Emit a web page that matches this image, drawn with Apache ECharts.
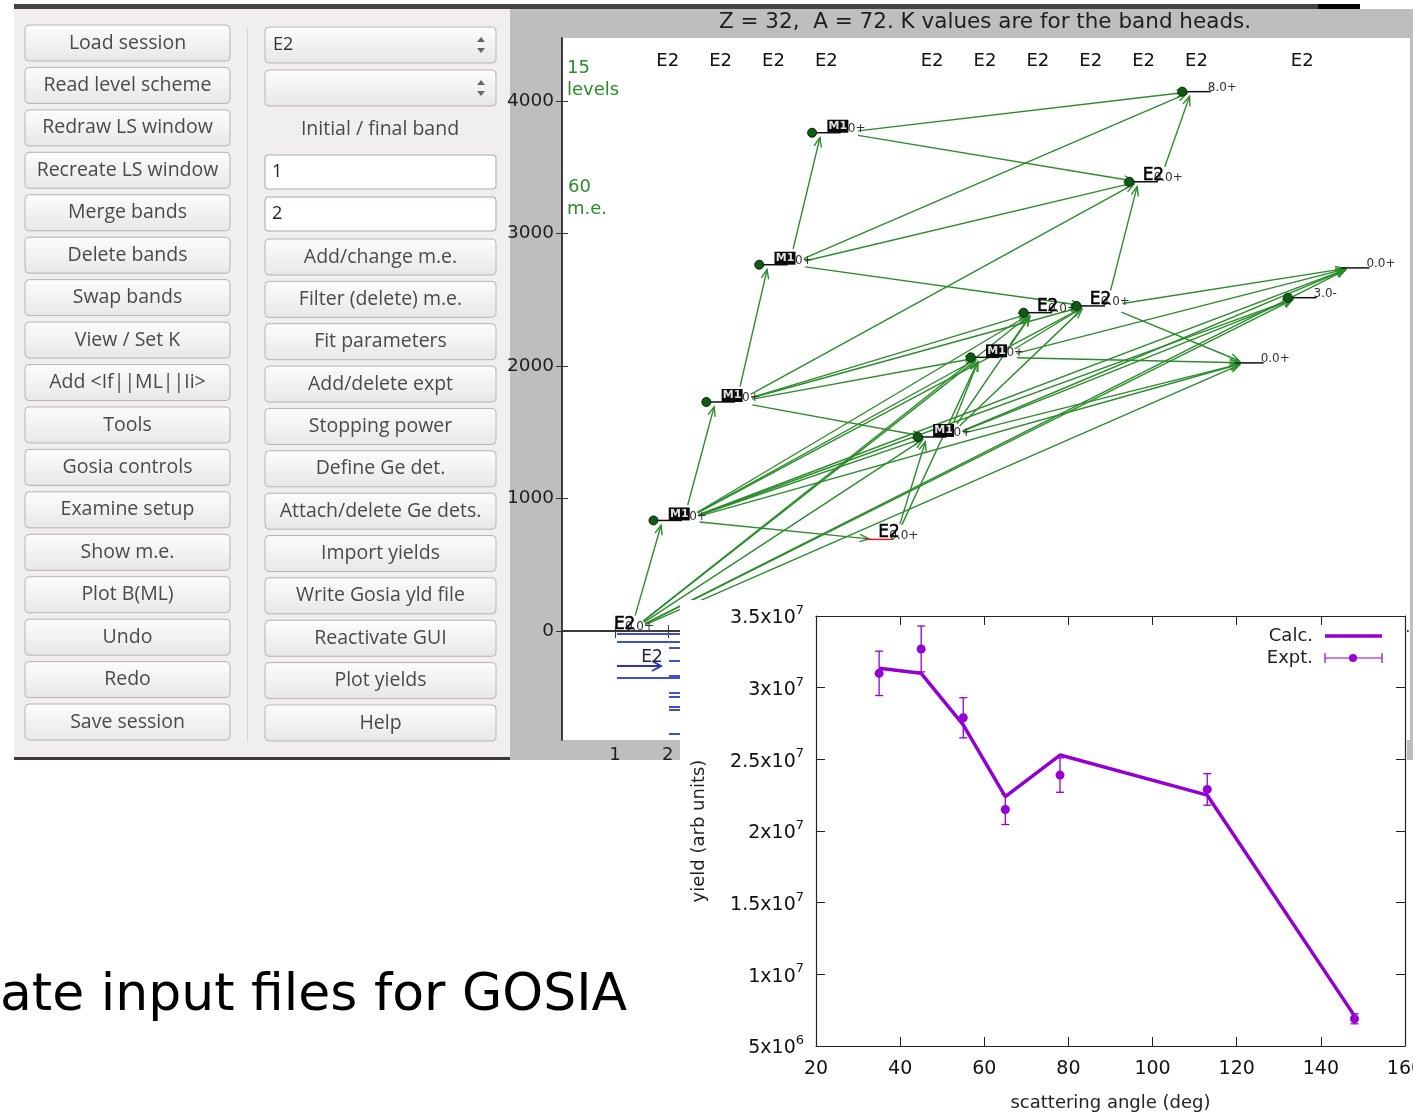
<!DOCTYPE html>
<html><head><meta charset="utf-8">
<script src="https://cdn.jsdelivr.net/npm/echarts@6/dist/echarts.min.js"></script>
<style>html,body{margin:0;padding:0;background:#fff;overflow:hidden}#c{width:1413px;height:1114px}</style>
</head><body><div id="c"></div><script>
// ---------------- Level scheme data (72Ge) ----------------
const levelBand   = [1, 2, 3, 4, 5, 6, 7, 8, 9, 10, 11, 12, 13, 14, 15];
const levelEnergy = [0, 834, 1728, 2764, 3760, 691, 1464, 2065, 2402, 2453, 3390, 4070, 2023, 2515, 2740];
const levelSpin   = ['0.0+','0.0+','0.0+','0.0+','0.0+','0.0+','0.0+','0.0+','0.0+','0.0+','0.0+','8.0+','0.0+','3.0-','0.0+'];
const levelTag    = ['text','box','box','box','box','text','box','box','text','text','text','none','none','none','none'];
const levelDot    = [0,1,1,1,1,0,1,1,1,1,1,1,0,1,0];
const bandLabelX  = [2, 3, 4, 5, 7, 8, 9, 10, 11, 12, 14];
const bandLabels  = ['E2','E2','E2','E2','E2','E2','E2','E2','E2','E2','E2'];
const lsTickX     = [1,2,3,4,5,6,7,8,9,10,11,12,13,14,15];
const lsTickY     = [0, 1000, 2000, 3000, 4000];
const transFrom   = [0,0,0,0,0,0,0, 1,1,1,1,1,1,1,1,1, 2,2,2,2,2,2, 3,3,3,3, 4,4, 5,5, 6,6,6,6,6,6, 7,7,7,7, 8,9,9,9,10];
const transTo     = [1,6,7,8,12,13,14, 2,5,6,7,8,9,12,13,14, 3,6,7,8,9,10, 4,9,10,11, 10,11, 6,7, 7,8,9,12,13,14, 8,9,12,14, 9,10,14,12,11];
const levelCount  = '15';
const meCount     = '60';

// ---------------- Yield data ----------------
const angles    = [35, 45, 55, 65, 78, 113, 148];
const exptYield = [3.10e7, 3.27e7, 2.79e7, 2.15e7, 2.39e7, 2.29e7, 6.9e6];
const exptErr   = [1.55e6, 1.6e6, 1.4e6, 1.05e6, 1.2e6, 1.1e6, 0.35e6];
const calcYield = [3.135e7, 3.10e7, 2.74e7, 2.24e7, 2.53e7, 2.25e7, 7.1e6];

// ---------------- GUI labels ----------------
const leftButtons = ['Load session','Read level scheme','Redraw LS window','Recreate LS window','Merge bands','Delete bands','Swap bands','View / Set K','Add <If||ML||Ii>','Tools','Gosia controls','Examine setup','Show m.e.','Plot B(ML)','Undo','Redo','Save session'];
const rightButtons = ['Add/change m.e.','Filter (delete) m.e.','Fit parameters','Add/delete expt','Stopping power','Define Ge det.','Attach/delete Ge dets.','Import yields','Write Gosia yld file','Reactivate GUI','Plot yields','Help'];
const comboValue = 'E2';
const bandFieldLabel = 'Initial / final band';
const initialBand = '1', finalBand = '2';

const FONT = '"DejaVu Sans"';
const GUIFONT = '"Open Sans"';
const redLevel = 5;
const GREEN = '#2b8c2b';
const PURPLE = '#9400d3';

const G = [];
function rect(x, y, w, h, fill, z, extra) {
  G.push(Object.assign({type:'rect', silent:true, z:z, shape:{x:x, y:y, width:w, height:h}, style:{fill:fill}}, extra || {}));
}
function text(str, x, y, font, fill, align, valign, z) {
  G.push({type:'text', silent:true, z:z, style:{text:str, x:x, y:y, font:font, fill:fill,
    textAlign:align, textVerticalAlign:valign, align:align, verticalAlign:valign}});
}
function line(x1, y1, x2, y2, stroke, w, z) {
  G.push({type:'line', silent:true, z:z, shape:{x1:x1,y1:y1,x2:x2,y2:y2}, style:{stroke:stroke, lineWidth:w}});
}

// window backgrounds
rect(14, 9, 496, 749, '#f0efee', 0);
rect(14, 757, 496, 3, '#3a3a3a', 0);
rect(14, 4, 1304, 5, '#444444', 0);
rect(1318, 4, 42, 5, '#050505', 0);
rect(510, 9, 903, 751, '#bebebe', 0);
rect(562, 38, 848, 702, '#ffffff', 0);

// GUI
const btnGrad = {type:'linear', x:0, y:0, x2:0, y2:1, colorStops:[{offset:0,color:'#fdfdfd'},{offset:1,color:'#e7e7e7'}]};
function button(x, cy, w, label) {
  G.push({type:'rect', silent:true, z:1, shape:{x:x, y:cy-18, width:w, height:36, r:4}, style:{fill:btnGrad, stroke:'#b4b4b4', lineWidth:1}});
  text(label, x + w/2, cy, '19.5px ' + GUIFONT, '#4a4a4a', 'center', 'middle', 2);
}
leftButtons.forEach((b, k) => button(25, 43 + k*42.44, 205, b));
rightButtons.forEach((b, k) => button(265, 257 + k*42.36, 231, b));
line(247.5, 28, 247.5, 742, '#d6d6d6', 1, 1);
// combos
[45, 88].forEach((cy, k) => {
  G.push({type:'rect', silent:true, z:1, shape:{x:265, y:cy-18, width:231, height:36, r:4}, style:{fill:btnGrad, stroke:'#b4b4b4', lineWidth:1}});
  G.push({type:'polygon', silent:true, z:2, shape:{points:[[477,cy-3],[485,cy-3],[481,cy-8]]}, style:{fill:'#666'}});
  G.push({type:'polygon', silent:true, z:2, shape:{points:[[477,cy+3],[485,cy+3],[481,cy+8]]}, style:{fill:'#666'}});
  if (k === 0) text(comboValue, 273, cy, '18px ' + GUIFONT, '#333', 'left', 'middle', 2);
});
text(bandFieldLabel, 380, 129, '19.5px ' + GUIFONT, '#4a4a4a', 'center', 'middle', 2);
[[172, initialBand], [214, finalBand]].forEach(([cy, v]) => {
  G.push({type:'rect', silent:true, z:1, shape:{x:265, y:cy-17, width:231, height:34, r:3}, style:{fill:'#ffffff', stroke:'#a8a8a8', lineWidth:1}});
  text(v, 272, cy, '18px ' + GUIFONT, '#222', 'left', 'middle', 2);
});

// level scheme annotations
text('Z = 32,  A = 72. K values are for the band heads.', 985, 22, '21.5px ' + FONT, '#1e1e1e', 'center', 'middle', 2);
text(levelCount, 567, 68, '18px ' + FONT, GREEN, 'left', 'middle', 6);
text('levels', 567, 90, '18px ' + FONT, GREEN, 'left', 'middle', 6);
text(meCount, 568, 187, '18px ' + FONT, GREEN, 'left', 'middle', 6);
text('m.e.', 567, 209, '18px ' + FONT, GREEN, 'left', 'middle', 6);

// blue lines of the window behind
const BLUE = '#3d4fd4';
line(617, 634, 680, 634, BLUE, 2, 6);
line(617, 642, 680, 642, BLUE, 2, 6);
line(617, 666, 660, 666, '#2a36a8', 2, 6);
G.push({type:'polyline', silent:true, z:6, shape:{points:[[652,661],[661,666],[652,671]]}, style:{stroke:'#2a36a8', lineWidth:2, fill:null}});
text('E2', 652, 658, '17px ' + FONT, '#222244', 'center', 'middle', 6);
line(617, 678, 680, 678, BLUE, 2, 6);
[648, 661, 676, 693, 697, 707, 710, 734].forEach(yy => line(669, yy, 680, yy, BLUE, 2, 6));

// yield window cover
rect(680, 600, 727, 514, '#ffffff', 10);
rect(1407, 760, 6, 354, '#ffffff', 10);

// big caption
text('ate input files for GOSIA', 0, 996, '52px ' + FONT, '#000000', 'left', 'middle', 11);

// yield legend
text('Calc.', 1313, 636, '18px ' + FONT, '#222', 'right', 'middle', 25);
line(1325, 636, 1382, 636, PURPLE, 3.5, 25);
text('Expt.', 1313, 658, '18px ' + FONT, '#222', 'right', 'middle', 25);
line(1325, 658, 1382, 658, PURPLE, 1.2, 25);
line(1325, 653, 1325, 663, PURPLE, 1.2, 25);
line(1382, 653, 1382, 663, PURPLE, 1.2, 25);
G.push({type:'circle', silent:true, z:25, shape:{cx:1353, cy:658, r:4}, style:{fill:PURPLE}});

// ---------------- render functions ----------------
function renderLevel(params, api) {
  const i = params.dataIndex;
  const c = api.coord([api.value(0), api.value(1)]);
  const unit = api.size([1, 0])[0];
  const h = 0.27 * unit;
  const x = c[0], y = c[1];
  const kids = [];
  kids.push({type:'line', shape:{x1:x-h, y1:y, x2:x+h, y2:y}, style:{stroke: i === redLevel ? '#d62020' : '#111', lineWidth:1.5}});
  if (levelDot[i]) kids.push({type:'circle', shape:{cx:x-h, cy:y, r:4.5}, style:{fill:'#0f5a14', stroke:'#052a08', lineWidth:1}});
  const tag = levelTag[i];
  kids.push({type:'text', style:{text:levelSpin[i], x: x + (tag === 'none' ? h - 3 : 10), y: y - 4, font:'12px ' + FONT, fill:'#333',
    textVerticalAlign:'middle', verticalAlign:'middle'}});
  if (tag === 'box') {
    kids.push({type:'rect', shape:{x:x+1, y:y-13, width:21, height:13}, style:{fill:'#0a0a0a'}});
    kids.push({type:'text', style:{text:'M1', x:x+11.5, y:y-6.5, font:'bold 11px ' + FONT, fill:'#e0e0e0',
      textAlign:'center', align:'center', textVerticalAlign:'middle', verticalAlign:'middle'}});
  } else if (tag === 'text') {
    kids.push({type:'text', style:{text:'E2', x:x-1, y:y+2, font:'17px ' + FONT, fill:'#000', stroke:'#000', lineWidth:0.5,
      textVerticalAlign:'bottom', verticalAlign:'bottom'}});
  }
  return {type:'group', children:kids};
}

function renderTrans(params, api) {
  const f = api.value(0), t = api.value(1);
  const a = api.coord([levelBand[f] + 0.3, levelEnergy[f]]);
  const b = api.coord([levelBand[t] - 0.1, levelEnergy[t]]);
  const dx = b[0]-a[0], dy = b[1]-a[1], L = Math.hypot(dx, dy), ux = dx/L, uy = dy/L;
  const s = [a[0] + ux*16, a[1] + uy*16], e = [b[0] - ux*5, b[1] - uy*5];
  const hl = 10, ang = 0.38, cs = Math.cos(ang), sn = Math.sin(ang);
  const bx = -ux, by = -uy;
  const h1 = [e[0] + hl*(bx*cs - by*sn), e[1] + hl*(bx*sn + by*cs)];
  const h2 = [e[0] + hl*(bx*cs + by*sn), e[1] + hl*(-bx*sn + by*cs)];
  return {type:'group', children:[
    {type:'line', shape:{x1:s[0], y1:s[1], x2:e[0], y2:e[1]}, style:{stroke:GREEN, lineWidth:1.4}},
    {type:'polyline', shape:{points:[h1, e, h2]}, style:{stroke:GREEN, lineWidth:1.4, fill:null}}
  ]};
}

function renderErr(params, api) {
  const x = api.value(0), y = api.value(1), er = api.value(2);
  const p = api.coord([x, y]), pt = api.coord([x, y + er]), pb = api.coord([x, y - er]);
  const cap = 4;
  return {type:'group', children:[
    {type:'line', shape:{x1:p[0], y1:pt[1], x2:p[0], y2:pb[1]}, style:{stroke:PURPLE, lineWidth:1.3}},
    {type:'line', shape:{x1:p[0]-cap, y1:pt[1], x2:p[0]+cap, y2:pt[1]}, style:{stroke:PURPLE, lineWidth:1.3}},
    {type:'line', shape:{x1:p[0]-cap, y1:pb[1], x2:p[0]+cap, y2:pb[1]}, style:{stroke:PURPLE, lineWidth:1.3}},
    {type:'circle', shape:{cx:p[0], cy:p[1], r:4.5}, style:{fill:PURPLE}}
  ]};
}

function sci(v) {
  const ex = Math.floor(Math.log10(v) + 1e-9);
  const m = +(v / Math.pow(10, ex)).toFixed(2);
  return '{b|' + m + 'x10}{s|' + ex + '}';
}
const sciRich = {
  b: {fontSize:19, fontFamily:'DejaVu Sans', color:'#111', lineHeight:24, verticalAlign:'bottom'},
  s: {fontSize:13, fontFamily:'DejaVu Sans', color:'#111', lineHeight:24, verticalAlign:'top'}
};

const lsAxisLine = {show:true, lineStyle:{color:'#333', width:1.5}};
const ylAxisLine = {show:true, lineStyle:{color:'#222', width:1.2}};

const option = {
  backgroundColor: '#ffffff',
  animation: false,
  graphic: {elements: G},
  grid: [
    {left:562, top:38, width:846, height:702, show:false, outerBoundsMode:'none', containLabel:false},
    {left:816, top:616, width:589, height:430, show:false, outerBoundsMode:'none', containLabel:false}
  ],
  xAxis: [
    {gridIndex:0, type:'value', min:0, max:16, position:'bottom', z:5,
      axisLine: lsAxisLine, splitLine:{show:false},
      axisTick:{inside:true, length:6, customValues:lsTickX, lineStyle:{color:'#333'}},
      axisLabel:{customValues:lsTickX, fontSize:18, fontFamily:'DejaVu Sans', color:'#1e1e1e', margin:6, formatter: v => String(v)}},
    {gridIndex:0, type:'value', min:0, max:16, position:'top', z:5,
      axisLine: lsAxisLine, splitLine:{show:false},
      axisTick:{inside:true, length:7, customValues:lsTickX, lineStyle:{color:'#333'}},
      axisLabel:{inside:true, customValues:bandLabelX, margin:14, fontSize:18, fontFamily:'DejaVu Sans', color:'#111',
        formatter: v => bandLabels[bandLabelX.indexOf(v)] || ''}},
    {gridIndex:1, type:'value', min:20, max:160, interval:20, position:'bottom', z:20,
      axisLine: ylAxisLine, splitLine:{show:false},
      axisTick:{inside:true, length:9, lineStyle:{color:'#222'}},
      axisLabel:{fontSize:19, fontFamily:'DejaVu Sans', color:'#111', margin:14, formatter: v => String(v)},
      name:'scattering angle (deg)', nameLocation:'middle', nameGap:48,
      nameTextStyle:{fontSize:18, fontFamily:'DejaVu Sans', color:'#222'}},
    {gridIndex:1, type:'value', min:20, max:160, interval:20, position:'top', z:20,
      axisLine: ylAxisLine, splitLine:{show:false},
      axisTick:{inside:true, length:9, lineStyle:{color:'#222'}}, axisLabel:{show:false}}
  ],
  yAxis: [
    {gridIndex:0, type:'value', min:-823, max:4475, position:'left', z:5,
      axisLine: lsAxisLine, splitLine:{show:false},
      axisTick:{inside:true, length:6, customValues:lsTickY, lineStyle:{color:'#333'}},
      axisLabel:{customValues:lsTickY, fontSize:18.5, fontFamily:'DejaVu Sans', color:'#1e1e1e', margin:8, formatter: v => String(v)}},
    {gridIndex:0, type:'value', min:-823, max:4475, position:'right', z:5,
      axisLine: lsAxisLine, splitLine:{show:false},
      axisTick:{inside:true, length:6, customValues:lsTickY, lineStyle:{color:'#333'}}, axisLabel:{show:false}},
    {gridIndex:1, type:'value', min:5e6, max:3.5e7, interval:5e6, position:'left', z:20,
      axisLine: ylAxisLine, splitLine:{show:false},
      axisTick:{inside:true, length:9, lineStyle:{color:'#222'}},
      axisLabel:{margin:12, formatter: sci, rich: sciRich},
      name:'yield (arb units)', nameLocation:'middle', nameGap:108,
      nameTextStyle:{fontSize:18, fontFamily:'DejaVu Sans', color:'#222'}},
    {gridIndex:1, type:'value', min:5e6, max:3.5e7, interval:5e6, position:'right', z:20,
      axisLine: ylAxisLine, splitLine:{show:false},
      axisTick:{inside:true, length:9, lineStyle:{color:'#222'}}, axisLabel:{show:false}}
  ],
  series: [
    {type:'custom', name:'transitions', xAxisIndex:0, yAxisIndex:0, z:3, silent:true,
      renderItem: renderTrans, data: transFrom.map((f, k) => [f, transTo[k]])},
    {type:'custom', name:'levels', xAxisIndex:0, yAxisIndex:0, z:4, silent:true,
      renderItem: renderLevel, data: levelBand.map((b, k) => [b, levelEnergy[k]])},
    {type:'line', name:'Calc.', xAxisIndex:2, yAxisIndex:2, z:21, silent:true,
      showSymbol:false, symbol:'none', lineStyle:{color:PURPLE, width:3.5}, itemStyle:{color:PURPLE},
      data: angles.map((a, k) => [a, calcYield[k]])},
    {type:'custom', name:'Expt.', xAxisIndex:2, yAxisIndex:2, z:22, silent:true,
      renderItem: renderErr, encode:{x:0, y:1},
      data: angles.map((a, k) => [a, exptYield[k], exptErr[k]])}
  ]
};
const chart = echarts.init(document.getElementById('c'), null, {renderer:'canvas', width:1413, height:1114});
chart.setOption(option);
</script></body></html>
